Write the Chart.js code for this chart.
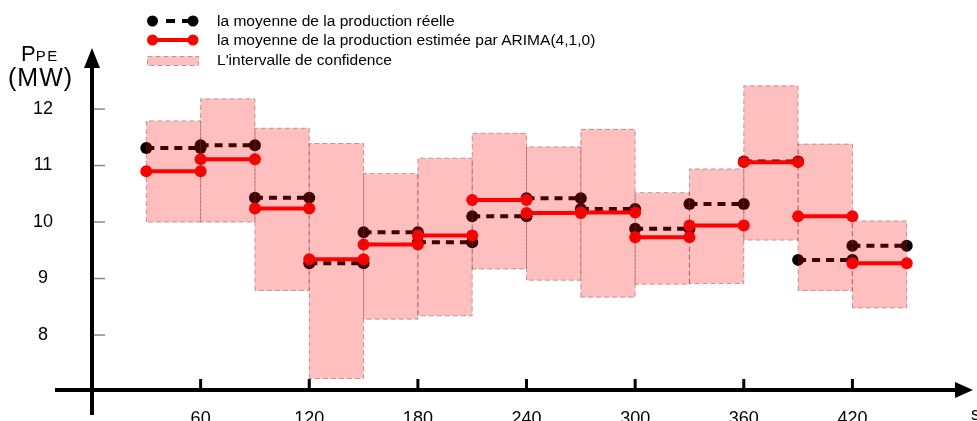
<!DOCTYPE html>
<html><head><meta charset="utf-8">
<script src="https://cdn.jsdelivr.net/npm/chart.js@4"></script>
<style>
html,body{margin:0;padding:0;background:#fff;overflow:hidden}
#wrap{position:relative;width:977px;height:421px;font-family:"Liberation Sans",Arial,sans-serif;color:#000}
#c{position:absolute;left:0;top:0}
.lbl{position:absolute;white-space:nowrap;line-height:1}
.leg{font-size:14px;transform:scaleX(1.11);transform-origin:0 0}
svg{position:absolute;left:0;top:0}
</style></head><body>
<div id="wrap">
<canvas id="c" width="977" height="421"></canvas>
<svg width="977" height="80" viewBox="0 0 977 80">
  <circle cx="152.5" cy="21" r="5.5" fill="#000"/>
  <path d="M166 21H175M182 21H190" stroke="#000" stroke-width="4"/>
  <circle cx="193" cy="21" r="5.5" fill="#000"/>
  <path d="M152.5 40H193" stroke="#ff0000" stroke-width="4"/>
  <circle cx="152.5" cy="40" r="5.5" fill="#ff0000"/>
  <circle cx="193" cy="40" r="5.5" fill="#ff0000"/>
  <rect x="147.5" y="56.5" width="51" height="9" fill="rgba(255,0,0,0.25)" stroke="rgba(110,60,60,0.45)" stroke-width="1" stroke-dasharray="5 3"/>
</svg>
<div class="lbl leg" style="left:217px;top:14px">la moyenne de la production réelle</div>
<div class="lbl leg" style="left:217px;top:33px">la moyenne de la production estimée par ARIMA(4,1,0)</div>
<div class="lbl leg" style="left:217px;top:53px">L'intervalle de confidence</div>
<div class="lbl" style="left:21px;top:43px;font-size:22px">P<span style="font-size:15px;letter-spacing:1.5px">PE</span></div>
<div class="lbl" style="left:8px;top:65px;font-size:25px;letter-spacing:1px">(MW)</div>
<div class="lbl" style="left:971px;top:405px;font-size:18px">s</div>
</div>
<script>
const segStart  = [30, 60, 90, 120, 150, 180, 210, 240, 270, 300, 330, 360, 390, 420];
const segEnd    = [60, 90, 120, 150, 180, 210, 240, 270, 300, 330, 360, 390, 420, 450];
const realMean  = [11.31, 11.36, 10.43, 9.27, 9.82, 9.64, 10.10, 10.42, 10.23, 9.88, 10.32, 11.07, 9.33, 9.58];
const arimaMean = [10.90, 11.11, 10.24, 9.34, 9.60, 9.76, 10.39, 10.16, 10.17, 9.73, 9.94, 11.06, 10.10, 9.27];
const ciLower   = [10.00, 10.00, 8.79, 7.23, 8.28, 8.34, 9.17, 8.97, 8.67, 8.90, 8.91, 9.68, 8.79, 8.48];
const ciUpper   = [11.79, 12.18, 11.66, 11.39, 10.86, 11.13, 11.57, 11.33, 11.64, 10.52, 10.94, 12.41, 11.38, 10.02];
const xTicks = [60, 120, 180, 240, 300, 360, 420];
const yTicks = [8, 9, 10, 11, 12];

function stepData(vals){
  const d = [];
  vals.forEach((v,i)=>{ d.push({x:segStart[i],y:v},{x:segEnd[i],y:v},{x:segEnd[i],y:null}); });
  return d;
}
const boxSets = segStart.map((s,i)=>({
  data:[{x:s,y:ciLower[i]},{x:s,y:ciUpper[i]},{x:segEnd[i],y:ciUpper[i]},{x:segEnd[i],y:ciLower[i]},{x:s,y:ciLower[i]}],
  fill:'shape', backgroundColor:'rgba(255,0,0,0.25)', borderColor:'rgba(110,60,60,0.45)',
  borderWidth:1, borderDash:[5,3], pointRadius:0, tension:0, order:0
}));

const axesPlugin = {
  id:'axesArrows',
  afterDatasetsDraw(chart){
    const {ctx, scales:{x,y}, chartArea} = chart;
    const x0 = x.getPixelForValue(0), y0 = y.getPixelForValue(y.min);
    ctx.save();
    ctx.strokeStyle = '#888';
    ctx.lineWidth = 1.5;
    yTicks.forEach(v=>{ const p = y.getPixelForValue(v); ctx.beginPath(); ctx.moveTo(x0, p); ctx.lineTo(x0 + 13, p); ctx.stroke(); });
    ctx.strokeStyle = '#000'; ctx.fillStyle = '#000';
    ctx.lineWidth = 4;
    ctx.beginPath(); ctx.moveTo(x0, 415); ctx.lineTo(x0, chartArea.top + 18); ctx.stroke();
    ctx.beginPath(); ctx.moveTo(x0, chartArea.top); ctx.lineTo(x0 - 8, chartArea.top + 20); ctx.lineTo(x0 + 8, chartArea.top + 20); ctx.closePath(); ctx.fill();
    ctx.beginPath(); ctx.moveTo(55, y0); ctx.lineTo(chartArea.right - 14, y0); ctx.stroke();
    ctx.beginPath(); ctx.moveTo(chartArea.right + 2, y0); ctx.lineTo(chartArea.right - 16, y0 - 8); ctx.lineTo(chartArea.right - 16, y0 + 8); ctx.closePath(); ctx.fill();
    ctx.lineWidth = 3;
    xTicks.forEach(v=>{ const p = x.getPixelForValue(v); ctx.beginPath(); ctx.moveTo(p, y0); ctx.lineTo(p, y0 - 11); ctx.stroke(); });
    ctx.restore();
  }
};

new Chart(document.getElementById('c'), {
  type:'line',
  data:{ datasets:[
    ...boxSets,
    { label:'la moyenne de la production estimée par ARIMA(4,1,0)', data:stepData(arimaMean), borderColor:'#ff0000', backgroundColor:'#ff0000',
      borderWidth:4, pointRadius:6, pointBorderWidth:0, pointBackgroundColor:'#ff0000', spanGaps:false, fill:false, order:1 },
    { label:'la moyenne de la production réelle', data:stepData(realMean), borderColor:'#000', backgroundColor:'#000',
      borderWidth:4, borderDash:[8,6], pointRadius:6, pointBorderWidth:0, pointBackgroundColor:'#000', spanGaps:false, fill:false, order:2 }
  ]},
  options:{
    responsive:false, animation:false, devicePixelRatio:1, events:[],
    layout:{ padding:{ top:48, right:2, left:0, bottom:0 } },
    plugins:{ legend:{display:false}, tooltip:{enabled:false} },
    scales:{
      x:{ type:'linear', min:0, max:485.5,
        grid:{display:false, drawTicks:false}, border:{display:false},
        afterBuildTicks:s=>{ s.ticks = xTicks.map(v=>({value:v})); },
        afterFit:s=>{ s.height = 31; s.paddingLeft = 0; s.paddingRight = 0; },
        ticks:{ padding:18, color:'#000', font:{family:'"Liberation Sans", Arial, sans-serif', size:18}, maxRotation:0, autoSkip:false }
      },
      y:{ type:'linear', min:7.027, max:13.08,
        grid:{display:false, drawTicks:false}, border:{display:false},
        afterBuildTicks:s=>{ s.ticks = yTicks.map(v=>({value:v})); },
        afterFit:s=>{ s.width = 92; s.paddingTop = 0; s.paddingBottom = 0; },
        ticks:{ padding:39, crossAlign:'center', color:'#000', font:{family:'"Liberation Sans", Arial, sans-serif', size:18}, autoSkip:false }
      }
    }
  },
  plugins:[axesPlugin]
});
</script>
</body></html>
